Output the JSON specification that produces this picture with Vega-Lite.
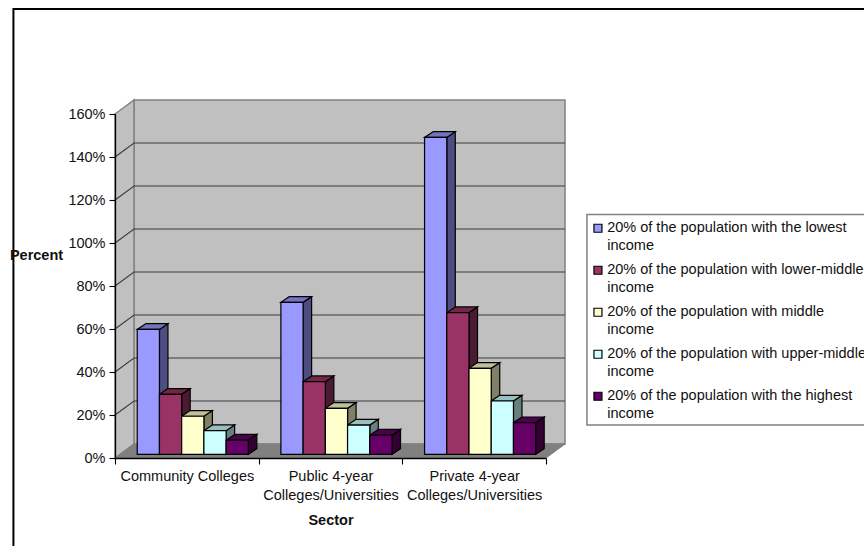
{
  "$schema": "https://vega.github.io/schema/vega-lite/v6.json",
  "width": 431,
  "height": 344,
  "autosize": "none",
  "padding": {"left": 115, "top": 114, "right": 318, "bottom": 88},
  "background": "white",
  "config": {
    "font": "Liberation Sans",
    "view": {"stroke": null},
    "axis": {"labelFont": "Liberation Sans", "titleFont": "Liberation Sans", "labelFontSize": 14.5, "titleFontSize": 14.5, "labelColor": "#111111", "titleColor": "#111111", "domainColor": "#000000", "tickColor": "#000000", "domainWidth": 1.3, "tickWidth": 1.1, "grid": false},
    "legend": {"labelFont": "Liberation Sans", "labelFontSize": 14.5, "labelColor": "#111111"}
  },
  "params": [
    {"name": "barW", "value": 0.1547},
    {"name": "barDX", "value": 0.0592},
    {"name": "barDY", "value": 2.65},
    {"name": "baseY", "value": 1.72},
    {"name": "wallDX", "value": 0.1324},
    {"name": "wallDY", "value": 6.51},
    {"name": "sectors", "value": ["Community Colleges", "Public 4-year Colleges/Universities", "Private 4-year Colleges/Universities"]},
    {"name": "groups", "value": ["20% of the population with the lowest income", "20% of the population with lower-middle income", "20% of the population with middle income", "20% of the population with upper-middle income", "20% of the population with the highest income"]}
  ],
  "datasets": {
    "bars": [
      {"sector": "Community Colleges", "group": "20% of the population with the lowest income", "value": 58.1},
      {"sector": "Community Colleges", "group": "20% of the population with lower-middle income", "value": 27.9},
      {"sector": "Community Colleges", "group": "20% of the population with middle income", "value": 17.7},
      {"sector": "Community Colleges", "group": "20% of the population with upper-middle income", "value": 11},
      {"sector": "Community Colleges", "group": "20% of the population with the highest income", "value": 6.6},
      {"sector": "Public 4-year Colleges/Universities", "group": "20% of the population with the lowest income", "value": 70.7},
      {"sector": "Public 4-year Colleges/Universities", "group": "20% of the population with lower-middle income", "value": 33.8},
      {"sector": "Public 4-year Colleges/Universities", "group": "20% of the population with middle income", "value": 21.4},
      {"sector": "Public 4-year Colleges/Universities", "group": "20% of the population with upper-middle income", "value": 13.6},
      {"sector": "Public 4-year Colleges/Universities", "group": "20% of the population with the highest income", "value": 8.9},
      {"sector": "Private 4-year Colleges/Universities", "group": "20% of the population with the lowest income", "value": 147.4},
      {"sector": "Private 4-year Colleges/Universities", "group": "20% of the population with lower-middle income", "value": 65.9},
      {"sector": "Private 4-year Colleges/Universities", "group": "20% of the population with middle income", "value": 40},
      {"sector": "Private 4-year Colleges/Universities", "group": "20% of the population with upper-middle income", "value": 24.8},
      {"sector": "Private 4-year Colleges/Universities", "group": "20% of the population with the highest income", "value": 14.7}
    ],
    "gridlines": [{"pct": 20}, {"pct": 40}, {"pct": 60}, {"pct": 80}, {"pct": 100}, {"pct": 120}, {"pct": 140}],
    "ends": [{"c": 0}, {"c": 1}],
    "one": [{"c": 0}]
  },
  "layer": [
    {
      "description": "Outer chart frame; its right and bottom sides run past the window",
      "data": {"name": "one"},
      "mark": {"type": "rect", "fill": "white", "stroke": "#000000", "strokeWidth": 2},
      "encoding": {
        "x": {"datum": -0.707, "type": "quantitative", "scale": {"domain": [0, 3]}, "axis": null},
        "x2": {"datum": 6},
        "y": {"datum": 208.8, "type": "quantitative", "scale": {"domain": [0, 160]}},
        "y2": {"datum": -60}
      }
    },
    {
      "description": "Legend box; its right side runs past the window",
      "data": {"name": "one"},
      "mark": {"type": "rect", "fill": "white", "stroke": "#808080", "strokeWidth": 1.5},
      "encoding": {
        "x": {"datum": 3.285, "type": "quantitative", "scale": {"domain": [0, 3]}, "axis": null},
        "x2": {"datum": 6},
        "y": {"datum": 113.3, "type": "quantitative"},
        "y2": {"datum": 15.3}
      }
    },
    {
      "description": "Back wall",
      "data": {"name": "one"},
      "mark": {"type": "rect", "fill": "#C0C0C0", "stroke": "#808080", "strokeWidth": 1.5},
      "encoding": {
        "x": {"datum": {"expr": "wallDX"}, "type": "quantitative", "scale": {"domain": [0, 3]}, "axis": null},
        "x2": {"datum": {"expr": "3 + wallDX"}},
        "y": {"datum": {"expr": "wallDY"}, "type": "quantitative"},
        "y2": {"datum": {"expr": "160 + wallDY"}}
      }
    },
    {
      "description": "Side wall",
      "data": {"name": "ends"},
      "transform": [
        {"calculate": "datum.c * wallDX", "as": "xp"},
        {"calculate": "datum.c * wallDY", "as": "lo"},
        {"calculate": "160 + datum.c * wallDY", "as": "hi"}
      ],
      "mark": {"type": "area", "orient": "vertical", "fill": "#C0C0C0", "stroke": "#808080", "strokeWidth": 1.5},
      "encoding": {
        "x": {"field": "xp", "type": "quantitative", "scale": {"domain": [0, 3]}, "axis": null},
        "y": {"field": "hi", "type": "quantitative", "stack": null},
        "y2": {"field": "lo"}
      }
    },
    {
      "description": "Floor",
      "data": {"name": "ends"},
      "transform": [
        {"calculate": "datum.c * wallDY", "as": "yp"},
        {"calculate": "datum.c * wallDX", "as": "lo"},
        {"calculate": "3 + datum.c * wallDX", "as": "hi"}
      ],
      "mark": {"type": "area", "orient": "horizontal", "fill": "#808080", "stroke": "#808080", "strokeWidth": 1},
      "encoding": {
        "y": {"field": "yp", "type": "quantitative"},
        "x": {"field": "lo", "type": "quantitative", "stack": null, "scale": {"domain": [0, 3]}, "axis": null},
        "x2": {"field": "hi"}
      }
    },
    {
      "description": "Gridlines folded across the side wall and the back wall",
      "data": {"name": "gridlines"},
      "transform": [
        {"calculate": "[0, wallDX, 3 + wallDX]", "as": "xp"},
        {"calculate": "[datum.pct, datum.pct + wallDY, datum.pct + wallDY]", "as": "yp"},
        {"flatten": ["xp", "yp"]}
      ],
      "mark": {"type": "line", "stroke": "#3a3a3a", "strokeWidth": 1.1},
      "encoding": {
        "x": {"field": "xp", "type": "quantitative", "scale": {"domain": [0, 3]}, "axis": null},
        "y": {"field": "yp", "type": "quantitative"},
        "detail": {"field": "pct"}
      }
    },
    {
      "description": "Right-hand faces of the bars",
      "data": {"name": "bars"},
      "transform": [
        {"calculate": "[0, 1]", "as": "c"},
        {"flatten": ["c"]},
        {"calculate": "indexof(sectors, datum.sector) + (2 + indexof(groups, datum.group)) * barW + datum.c * barDX", "as": "xp"},
        {"calculate": "datum.value + baseY + datum.c * barDY", "as": "hi"},
        {"calculate": "baseY + datum.c * barDY", "as": "lo"}
      ],
      "mark": {"type": "area", "orient": "vertical", "stroke": "#000000", "strokeWidth": 1.2},
      "encoding": {
        "x": {"field": "xp", "type": "quantitative", "scale": {"domain": [0, 3]}, "axis": null},
        "y": {"field": "hi", "type": "quantitative", "stack": null},
        "y2": {"field": "lo"},
        "detail": {"field": "sector"},
        "fill": {"field": "group", "type": "nominal", "legend": null, "sort": null,
          "scale": {"domain": {"expr": "groups"}, "range": ["#4D4D80", "#4D1A33", "#808066", "#668080", "#330033"]}}
      }
    },
    {
      "description": "Top faces of the bars",
      "data": {"name": "bars"},
      "transform": [
        {"calculate": "[0, 1]", "as": "c"},
        {"flatten": ["c"]},
        {"calculate": "datum.value + baseY + datum.c * barDY", "as": "yp"},
        {"calculate": "indexof(sectors, datum.sector) + (1 + indexof(groups, datum.group)) * barW + datum.c * barDX", "as": "lo"},
        {"calculate": "datum.lo + barW", "as": "hi"}
      ],
      "mark": {"type": "area", "orient": "horizontal", "stroke": "#000000", "strokeWidth": 1.2},
      "encoding": {
        "y": {"field": "yp", "type": "quantitative"},
        "x": {"field": "lo", "type": "quantitative", "stack": null, "scale": {"domain": [0, 3]}, "axis": null},
        "x2": {"field": "hi"},
        "detail": {"field": "sector"},
        "fill": {"field": "group", "type": "nominal", "legend": null, "sort": null,
          "scale": {"domain": {"expr": "groups"}, "range": ["#7373BF", "#732645", "#BFBF99", "#99BFBF", "#4D004D"]}}
      }
    },
    {
      "description": "Front faces of the bars, carrying the sector axis, the percent axis and the legend",
      "data": {"name": "bars"},
      "mark": {"type": "bar", "stroke": "#000000", "strokeWidth": 1.2, "yOffset": -3.7, "y2Offset": -3.7},
      "encoding": {
        "x": {"field": "sector", "type": "nominal", "sort": null,
          "scale": {"paddingInner": 0, "paddingOuter": 0},
          "axis": {"zindex": 1, "title": "Sector", "titleFontWeight": "bold", "labelAngle": 0, "tickBand": "extent", "tickSize": 6, "labelPadding": 5, "labelLimit": 0, "labelOverlap": false, "labelLineHeight": 19, "labelBaseline": "top", "titlePadding": 12,
            "labelExpr": "split(replace(datum.label, ' Colleges/', '|Colleges/'), '|')"}},
        "xOffset": {"field": "group", "type": "nominal", "sort": null, "scale": {"domain": {"expr": "groups"}, "paddingInner": 0, "paddingOuter": 0.732, "align": 0.683}},
        "y": {"field": "value", "type": "quantitative", "scale": {"domain": [0, 160]},
          "axis": {"zindex": 1, "title": "Percent", "titleFontWeight": "bold", "titleAngle": 0, "titleAlign": "center", "titleBaseline": "middle", "titleX": -79, "titleY": 141, "values": [0, 20, 40, 60, 80, 100, 120, 140, 160], "tickSize": 6, "labelPadding": 4, "labelExpr": "datum.value + '%'"}},
        "fill": {"field": "group", "type": "nominal", "sort": null,
          "scale": {"domain": {"expr": "groups"}, "range": ["#9999FF", "#993366", "#FFFFCC", "#CCFFFF", "#660066"]},
          "legend": {"title": null, "orient": "none", "legendX": 475.7, "legendY": 100, "symbolType": "M-1,0.75 H1 V2.75 H-1 Z", "symbolSize": 64, "symbolStrokeColor": "#000000", "symbolStrokeWidth": 1.2, "labelLimit": 0, "labelBaseline": "top", "labelOffset": 2, "padding": 0, "rowPadding": 3,
            "encoding": {"labels": {"lineHeight": {"value": 18}}},
            "labelExpr": "[replace(datum.label, ' income', ''), 'income']"}}
      }
    }
  ],
  "resolve": {
    "scale": {"x": "independent", "fill": "independent"},
    "axis": {"x": "independent"},
    "legend": {"fill": "independent"}
  }
}
